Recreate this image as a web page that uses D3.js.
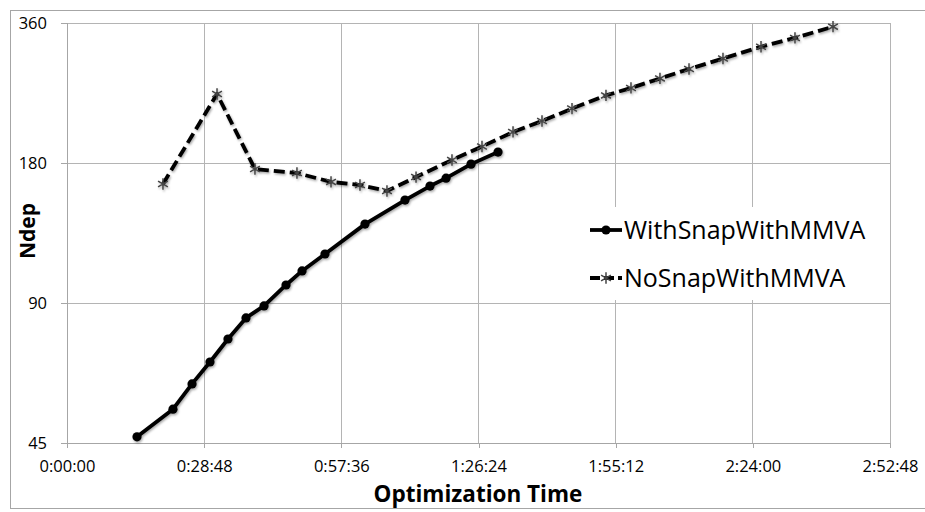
<!DOCTYPE html>
<html>
<head>
<meta charset="utf-8">
<script src="https://cdn.jsdelivr.net/npm/d3@7"></script>
<style>
  body { margin: 0; background: #fff; }
  text { font-family: "Open Sans", sans-serif; fill: #000; }
</style>
</head>
<body>
<div id="chart"></div>
<script>
// optimization time in seconds
var withSnapTime = [882, 1335, 1575, 1801, 2028, 2255, 2482, 2759, 2961, 3250, 3754, 4258, 4573, 4775, 5090, 5430];
var withSnapNdep = [46.4, 53.2, 60.3, 67.2, 75.3, 83.6, 88.7, 98.4, 105.5, 114.7, 133, 149.8, 160.6, 167, 179, 190];

var noSnapTime = [1209, 1890, 2368, 2897, 3326, 3691, 4031, 4397, 4850, 5228, 5619, 5984, 6362, 6790, 7105, 7470, 7836, 8264, 8743, 9171, 9650];
var noSnapNdep = [162.2, 253.3, 174.7, 171.3, 163.9, 161.4, 156.7, 167.9, 182.7, 195.3, 209.9, 221.6, 235.7, 251.5, 261, 273.6, 286.7, 302, 320.1, 334.3, 353.5];

var xTicks = [0, 1728, 3456, 5184, 6912, 8640, 10368];
var yTicks = [45, 90, 180, 360];
var seriesNames = ["WithSnapWithMMVA", "NoSnapWithMMVA"];

var width = 925, height = 512;
var margin = {top: 23, right: 35, bottom: 69, left: 67};

var svg = d3.select("#chart").append("svg")
    .attr("width", width)
    .attr("height", height);

var defs = svg.append("defs");
defs.append("filter").attr("id", "shadow")
    .attr("x", "-50%").attr("y", "-50%").attr("width", "200%").attr("height", "200%")
  .append("feDropShadow")
    .attr("dx", 1).attr("dy", 1.5).attr("stdDeviation", 1.2)
    .attr("flood-color", "#000").attr("flood-opacity", 0.35);

// outer chart border
svg.append("rect")
    .attr("x", 10.5).attr("y", 10.5)
    .attr("width", 940).attr("height", 498)
    .attr("fill", "none")
    .attr("stroke", "#a6a6a6");

var x = d3.scaleLinear()
    .domain([0, 10368])
    .range([margin.left, width - margin.right]);

var y = d3.scaleLog().base(2)
    .domain([45, 360])
    .range([height - margin.bottom, margin.top]);

function fmtTime(s) {
    var h = Math.floor(s / 3600), m = Math.floor((s % 3600) / 60), sec = s % 60;
    return h + ":" + d3.format("02")(m) + ":" + d3.format("02")(sec);
}

// gridlines
var grid = svg.append("g").attr("class", "grid")
    .attr("stroke", "#b4b4b4").attr("stroke-width", 1).attr("shape-rendering", "crispEdges");
grid.selectAll(".vline").data(xTicks).enter().append("line")
    .attr("x1", function(d) { return x(d); })
    .attr("x2", function(d) { return x(d); })
    .attr("y1", y(360)).attr("y2", y(45));
grid.selectAll(".hline").data(yTicks).enter().append("line")
    .attr("x1", x(0)).attr("x2", x(10368))
    .attr("y1", function(d) { return y(d); })
    .attr("y2", function(d) { return y(d); });

// axes
var xAxis = d3.axisBottom(x).tickValues(xTicks).tickSize(5).tickPadding(8).tickFormat(fmtTime);
var yAxis = d3.axisLeft(y).tickValues(yTicks).tickSize(6).tickPadding(14).tickFormat(d3.format("d"));

var gX = svg.append("g")
    .attr("transform", "translate(0," + y(45) + ")")
    .call(xAxis);
var gY = svg.append("g")
    .attr("transform", "translate(" + x(0) + ",0)")
    .call(yAxis);

[gX, gY].forEach(function(g) {
    g.select(".domain").attr("stroke", "#a6a6a6").attr("shape-rendering", "crispEdges");
    g.selectAll(".tick line").attr("stroke", "#a6a6a6").attr("shape-rendering", "crispEdges");
    g.selectAll(".tick text")
        .attr("font-family", "Open Sans, sans-serif")
        .attr("font-size", 16.5)
        .attr("fill", "#111");
});
gX.selectAll(".tick text").attr("dy", "0.95em");
gY.selectAll(".tick text").attr("dy", "0.35em");

// axis titles
svg.append("text")
    .attr("x", 478).attr("y", 502)
    .attr("text-anchor", "middle")
    .attr("font-weight", "bold")
    .attr("font-size", 22.5)
    .text("Optimization Time");

svg.append("text")
    .attr("transform", "translate(35,231) rotate(-90)")
    .attr("text-anchor", "middle")
    .attr("font-weight", "bold")
    .attr("font-size", 21)
    .text("Ndep");

// series
var withSnap = withSnapTime.map(function(t, i) { return {t: t, v: withSnapNdep[i]}; });
var noSnap = noSnapTime.map(function(t, i) { return {t: t, v: noSnapNdep[i]}; });

var line = d3.line()
    .x(function(d) { return x(d.t); })
    .y(function(d) { return y(d.v); });

var star = d3.symbol().type(d3.symbolAsterisk).size(90);

var plot = svg.append("g").attr("filter", "url(#shadow)");

plot.append("path")
    .datum(noSnap)
    .attr("d", line)
    .attr("fill", "none")
    .attr("stroke", "#000")
    .attr("stroke-width", 3.8)
    .attr("stroke-dasharray", "11,5")
    .attr("stroke-linejoin", "round");

plot.selectAll(".star").data(noSnap).enter().append("path")
    .attr("class", "star")
    .attr("transform", function(d) { return "translate(" + x(d.t) + "," + y(d.v) + ")"; })
    .attr("d", star)
    .attr("fill", "none")
    .attr("stroke", "#444")
    .attr("stroke-width", 1.5);

plot.append("path")
    .datum(withSnap)
    .attr("d", line)
    .attr("fill", "none")
    .attr("stroke", "#000")
    .attr("stroke-width", 3.8)
    .attr("stroke-linejoin", "round");

plot.selectAll(".dot").data(withSnap).enter().append("circle")
    .attr("class", "dot")
    .attr("cx", function(d) { return x(d.t); })
    .attr("cy", function(d) { return y(d.v); })
    .attr("r", 4.6)
    .attr("fill", "#000");

// legend
var legend = svg.append("g");
legend.append("rect")
    .attr("x", 585).attr("y", 207)
    .attr("width", 304).attr("height", 93)
    .attr("fill", "#fff");

var items = legend.selectAll(".item").data(seriesNames).enter().append("g")
    .attr("transform", function(d, i) { return "translate(590," + (230 + i * 48) + ")"; });

items.append("line")
    .attr("x1", 0).attr("x2", 32)
    .attr("stroke", "#000")
    .attr("stroke-width", 3.8)
    .attr("stroke-dasharray", function(d, i) { return i === 1 ? "10,4" : null; });

items.each(function(d, i) {
    var g = d3.select(this);
    if (i === 0) {
        g.append("circle").attr("cx", 16).attr("r", 4.6).attr("fill", "#000");
    } else {
        g.append("path").attr("transform", "translate(16,0)").attr("d", star)
            .attr("fill", "none").attr("stroke", "#444").attr("stroke-width", 1.5);
    }
});

items.append("text")
    .attr("x", 34).attr("y", 9)
    .attr("font-size", 25)
    .text(function(d) { return d; });
</script>
</body>
</html>
